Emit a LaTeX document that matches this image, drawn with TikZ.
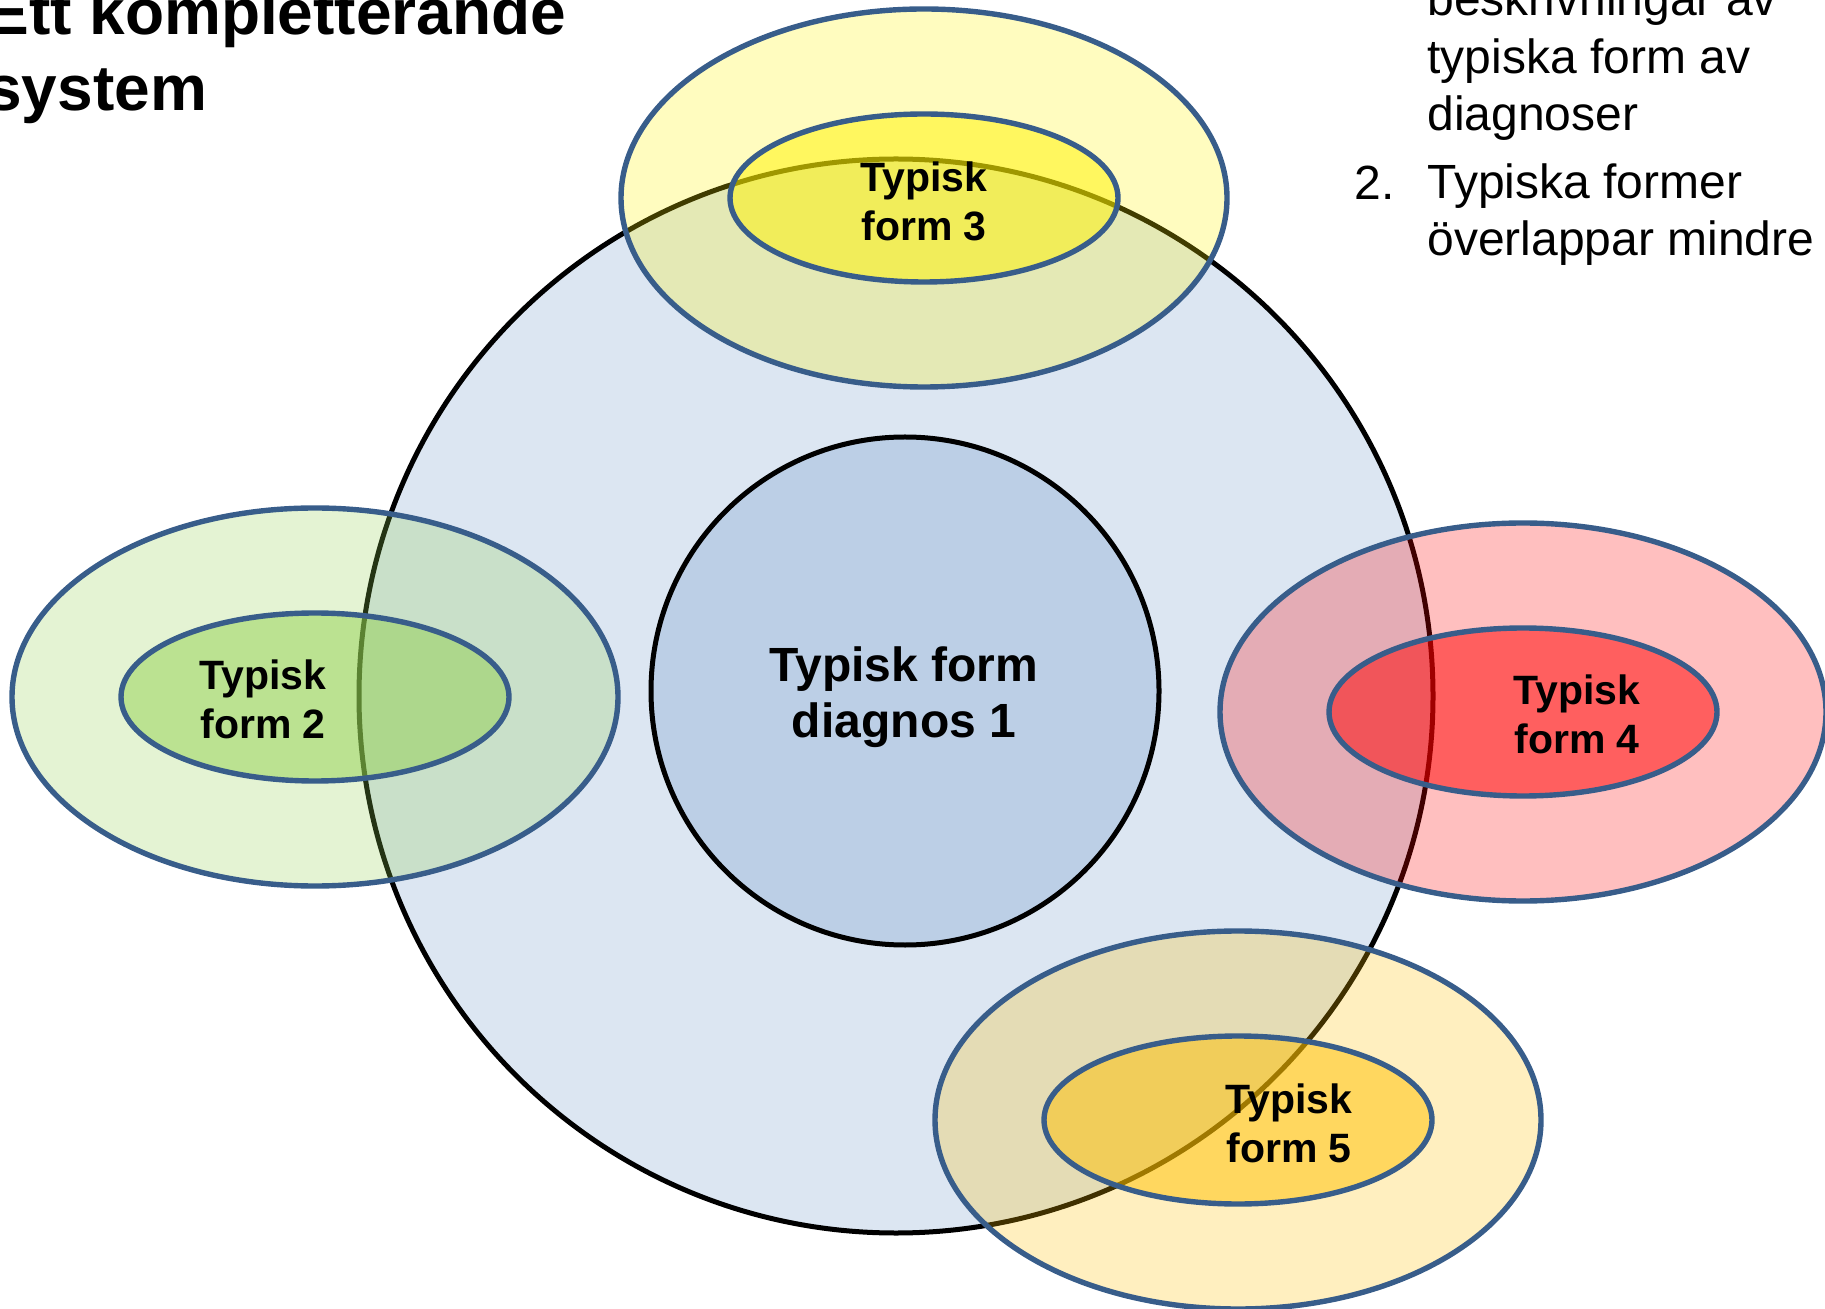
\documentclass[tikz,border=0pt]{standalone}
\usepackage{fontspec}
\setmainfont{Liberation Sans}

\definecolor{ringblue}{RGB}{56,93,138}
\definecolor{outerdisc}{RGB}{220,230,242}
\definecolor{innerdisc}{RGB}{188,207,230}
\definecolor{formgreen}{RGB}{146,208,80}
\definecolor{formorange}{RGB}{255,192,0}

\tikzset{
	ring/.style={draw=ringblue, line width=2.7pt},
	outerring/.style={ring, fill opacity=0.25},
	innerring/.style={ring, fill opacity=0.5},
	formlabel/.style={font=\fontsize{20.5}{24.5}\selectfont\bfseries, align=center, inner sep=0pt},
	bodytext/.style={font=\fontsize{24}{28.75}\selectfont, align=left, inner sep=0pt, anchor=base west}
}

\begin{document}
\begin{tikzpicture}[x=0.5pt, y=-0.5pt]
		\useasboundingbox (0,0) rectangle (1825,1309);
		\draw[fill=outerdisc, line width=2.5pt] (896,696) circle (268.5pt);
		\draw[fill=innerdisc, line width=2.5pt] (905,691) circle (127pt);
		\foreach \cx/\cy/\col in {924/198/yellow, 315/697/formgreen, 1523/712/red, 1238/1120/formorange}
		{\draw[outerring, fill=\col] (\cx,\cy) ellipse (151.5pt and 94.5pt);
		 \draw[innerring, fill=\col] (\cx,\cy) ellipse (97pt and 42pt);}
		\node[font=\fontsize{24}{28}\selectfont\bfseries, align=center, inner sep=0pt] (diag1) at (904,697) {Typisk form\\diagnos 1};
		\node[formlabel] (form2) at (263,699) {Typisk\\form 2};
		\node[formlabel] (form3) at (924,201) {Typisk\\form 3};
		\node[formlabel] (form4) at (1577,714) {Typisk\\form 4};
		\node[formlabel] (form5) at (1289,1123) {Typisk\\form 5};
		\node[font=\fontsize{32}{38}\selectfont\bfseries, align=left, inner sep=0pt, anchor=base west] (title) at (-14,111) {Ett kompletterande\\system};
		\node[bodytext] (list1) at (1427,131) {beskrivningar av\\typiska form av\\diagnoser};
		\node[bodytext] (num2) at (1354,200) {2.};
		\node[bodytext] (list2) at (1427,256) {Typiska former\\överlappar mindre};
	\end{tikzpicture}
\end{document}
